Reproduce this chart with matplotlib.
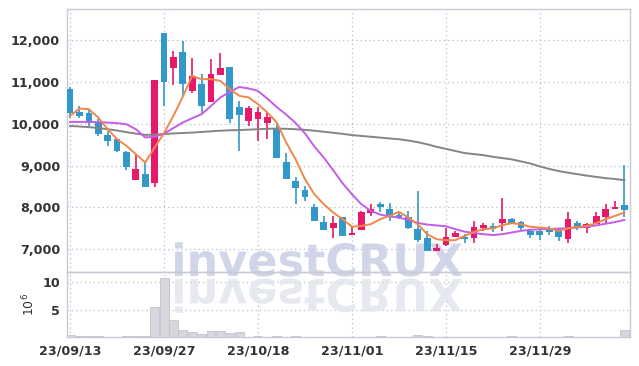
import matplotlib
matplotlib.use('Agg')
import matplotlib.pyplot as plt
import numpy as np
from matplotlib.textpath import TextPath
from matplotlib.patches import PathPatch
from matplotlib.font_manager import FontProperties
from matplotlib.transforms import Affine2D, IdentityTransform
from matplotlib.ticker import FuncFormatter

plt.rcParams['font.family'] = ['Liberation Sans Narrow', 'DejaVu Sans']

# daily candles (KRW), 23/09/13 .. 23/12/12
dates = ['23/09/13', '23/09/27', '23/10/18', '23/11/01', '23/11/15', '23/11/29']
opens = [10830, 10285, 10254, 10015, 9728, 9632, 9328, 8660, 8795, 8596,
         12167, 11323, 11721, 10787, 10948, 10524, 11170, 11370, 10390, 10055,
         10110, 10031, 9871, 9090, 8620, 8412, 8013, 7663, 7496, 7759,
         7335, 7455, 7878, 8077, 7974, 7814, 7759, 7479, 7264, 6960,
         7104, 7295, 7288, 7280, 7511, 7559, 7622, 7718, 7655, 7440,
         7440, 7479, 7479, 7240, 7622, 7496, 7599, 7782, 7958, 8053]
closes = [10250, 10190, 10015, 9752, 9590, 9352, 8955, 8914, 8477, 11043,
          11003, 11586, 10948, 11146, 10428, 11187, 11323, 10110, 10213, 10367,
          10294, 10165, 9177, 8675, 8460, 8252, 7678, 7462, 7639, 7319,
          7383, 7879, 7974, 8013, 7759, 7774, 7503, 7223, 6960, 7041,
          7304, 7383, 7247, 7520, 7575, 7479, 7718, 7614, 7496, 7343,
          7343, 7416, 7296, 7718, 7520, 7599, 7798, 7974, 8022, 7941]
highs = [10870, 10414, 10330, 10110, 9830, 9632, 9352, 9273, 9075, 11043,
         12167, 11730, 11969, 11562, 11187, 11545, 11705, 11370, 10548, 10421,
         10390, 10294, 10031, 9297, 8730, 8515, 8077, 7798, 7798, 7759,
         7559, 7917, 8077, 8133, 8117, 7902, 7917, 8381, 7440, 7120,
         7497, 7431, 7359, 7678, 7639, 7639, 8237, 7750, 7678, 7480,
         7504, 7559, 7500, 7879, 7678, 7639, 7879, 8077, 8156, 9010]
lows = [10150, 10135, 9950, 9704, 9470, 9314, 8898, 8660, 8477, 8477,
        10428, 10924, 10653, 10732, 10230, 10524, 11170, 10031, 9352, 9950,
        9577, 9632, 9177, 8675, 8077, 8156, 7678, 7462, 7280, 7319,
        7335, 7455, 7798, 7893, 7678, 7735, 7479, 7175, 6960, 6960,
        7080, 7295, 7144, 7144, 7440, 7416, 7440, 7600, 7440, 7280,
        7223, 7350, 7200, 7161, 7455, 7383, 7599, 7639, 7958, 7759]
ma5 = [10190, 10366, 10350, 10150, 9871, 9632, 9472, 9273, 9075, 9434,
       9780, 10190, 10653, 11146, 11067, 11067, 11027, 10828, 10669, 10630,
       10469, 10270, 10031, 9553, 9153, 8675, 8316, 8077, 7878, 7718,
       7540, 7559, 7599, 7718, 7798, 7893, 7759, 7599, 7359, 7240,
       7216, 7216, 7320, 7416, 7479, 7497, 7575, 7623, 7599, 7535,
       7520, 7497, 7440, 7497, 7535, 7559, 7623, 7718, 7798, 7878]
ma20 = [10046, 10046, 10046, 10040, 10030, 10015, 9990, 9870, 9673, 9690,
        9765, 9900, 10031, 10134, 10230, 10428, 10630, 10764, 10880, 10845,
        10787, 10600, 10400, 10220, 10020, 9770, 9456, 9193, 8890, 8580,
        8316, 8077, 7917, 7830, 7783, 7760, 7700, 7630, 7590, 7570,
        7550, 7480, 7420, 7385, 7360, 7340, 7360, 7400, 7440, 7465,
        7478, 7485, 7495, 7505, 7520, 7540, 7570, 7610, 7650, 7700]
ma60 = [9950, 9935, 9920, 9900, 9870, 9840, 9800, 9765, 9735, 9740,
        9755, 9770, 9780, 9790, 9805, 9820, 9835, 9845, 9850, 9860,
        9870, 9880, 9885, 9880, 9870, 9855, 9835, 9810, 9785, 9760,
        9730, 9710, 9690, 9670, 9650, 9630, 9600, 9560, 9510, 9450,
        9400, 9350, 9300, 9275, 9250, 9210, 9180, 9150, 9100, 9050,
        8980, 8920, 8870, 8830, 8795, 8760, 8730, 8700, 8680, 8650]
volume = [0.36, 0.2, 0.2, 0.2, 0.05, 0.15, 0.2, 0.2, 0.2, 5.4,
          10.6, 3.1, 1.4, 0.9, 0.67, 1.1, 1.1, 0.72, 1.0, 0.15,
          0.3, 0.15, 0.3, 0.15, 0.3, 0.15, 0.1, 0.05, 0.05, 0.05,
          0.05, 0.05, 0.05, 0.25, 0.05, 0.05, 0.05, 0.5, 0.2, 0.05,
          0.05, 0.05, 0.05, 0.05, 0.05, 0.05, 0.05, 0.35, 0.05, 0.05,
          0.05, 0.05, 0.05, 0.2, 0.05, 0.05, 0.05, 0.05, 0.05, 1.4]

UP = '#e8186a'
DOWN = '#3198c9'
GRID = '#b9bdd6'
SPINE = '#c8cad6'
TXT = '#333333'

fig = plt.figure(figsize=(6.39, 3.66), dpi=100)
ax = fig.add_axes([0.105, 0.257, 0.881, 0.718])
axv = fig.add_axes([0.105, 0.078, 0.881, 0.179], sharex=ax)
ax.set_facecolor('none')
axv.set_facecolor('none')

x = np.arange(len(opens))
o = np.array(opens); c = np.array(closes)
colors = [UP if cc >= oo else DOWN for oo, cc in zip(o, c)]
body_lo = np.minimum(o, c)
body_h = np.maximum(np.abs(c - o), 25)

ax.vlines(x, lows, highs, colors=colors, linewidth=1.2, zorder=3)
ax.bar(x, body_h, bottom=body_lo, width=0.72, color=colors, zorder=4)

ax.plot(x, ma60, color='#858585', lw=1.4, zorder=5)
ax.plot(x, ma20, color='#c55ce8', lw=1.4, zorder=5)
ax.plot(x, ma5, color='#f0884c', lw=1.4, zorder=5)

axv.bar(x, volume, width=0.95, color='#d6d6dd', edgecolor='#c2c3cc', linewidth=0.6, zorder=3)

# axes styling
ax.set_xlim(-0.32, 59.6)
ax.set_ylim(6457, 12742)
axv.set_ylim(0, 11.75)
ax.set_yticks([7000, 8000, 9000, 10000, 11000, 12000])
ax.yaxis.set_major_formatter(FuncFormatter(lambda v, p: f'{int(v):,}'))
axv.set_yticks([5, 10])
axv.set_xticks(range(0, 60, 10))
axv.set_xticklabels(dates)
plt.setp(ax.get_xticklabels(), visible=False)

for a in (ax, axv):
    a.grid(True, color=GRID, linestyle=(0, (1, 2.5)), linewidth=0.9, zorder=0)
    a.set_axisbelow(True)
    a.tick_params(length=0, colors=TXT, labelsize=9.2, pad=5)
    for lab in a.get_xticklabels() + a.get_yticklabels():
        lab.set_fontweight('bold')
    for s in a.spines.values():
        s.set_color(SPINE)
        s.set_linewidth(1.0)
axv.set_ylabel(r'$10^6$', fontsize=9, color=TXT, family='DejaVu Sans', labelpad=4)

# watermark with reflection
fp = FontProperties(family='DejaVu Sans', weight='bold')
tp = TextPath((0, 0), 'investCRUX', size=100, prop=fp)
ext = tp.get_extents()
s = 287 / ext.width
H = 366
base = Affine2D().translate(-ext.x0, 0)
t1 = base + Affine2D().scale(s, s).translate(175, H - 276)
t2 = base + Affine2D().scale(s, -s).translate(175, H - 279)
ax.add_patch(PathPatch(tp, transform=t1 + IdentityTransform(), facecolor='#c9cee4',
                       edgecolor='none', alpha=0.85, zorder=1, clip_on=False))
axv.add_patch(PathPatch(tp, transform=t2 + IdentityTransform(), facecolor='#e2e4ee',
                        edgecolor='none', alpha=0.8, zorder=1, clip_on=True))

fig.savefig('out.png', dpi=100)
